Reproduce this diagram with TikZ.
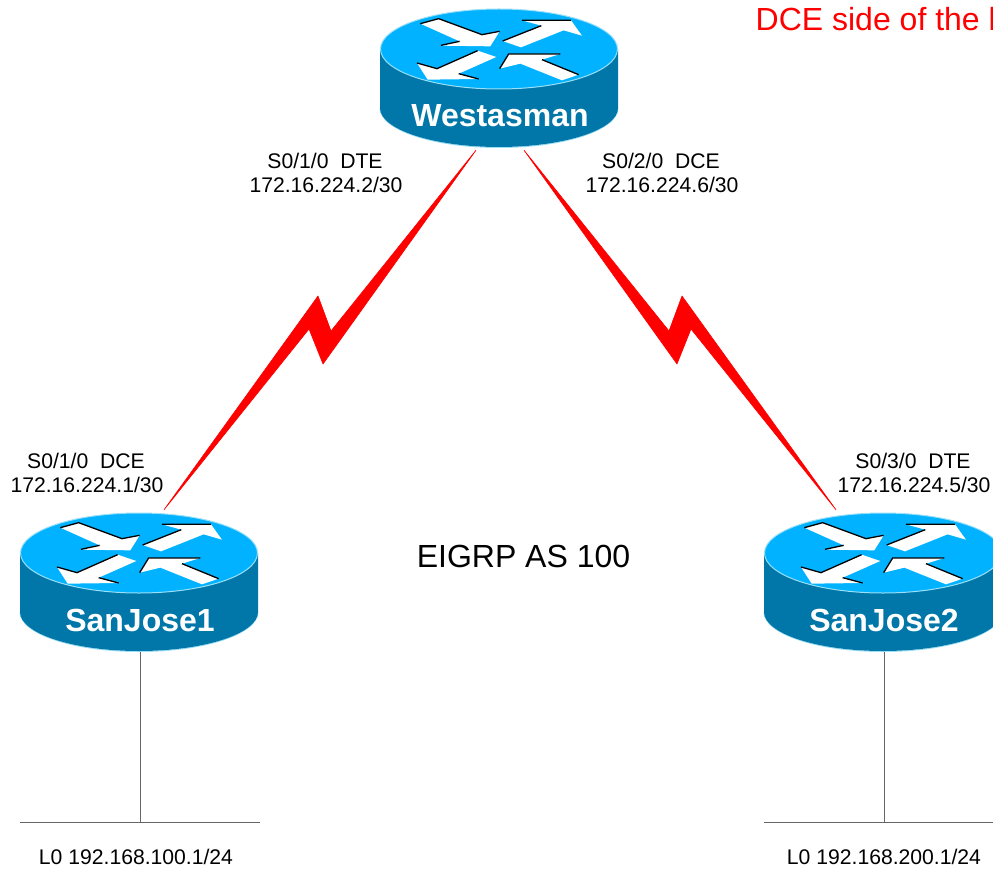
\documentclass[tikz,border=0pt]{standalone}
\usepackage{fontspec}
\setmainfont{Liberation Sans}
\usetikzlibrary{calc}
\definecolor{rtop}{HTML}{00B2FF}
\definecolor{rside}{HTML}{0077A8}
\definecolor{rrim}{HTML}{9ADFF5}
\definecolor{wire}{HTML}{666666}
\tikzset{
  lab/.style={inner sep=0pt,font=\fontsize{21.15}{25}\selectfont},
  biglab/.style={inner sep=0pt,font=\fontsize{32}{38}\selectfont},
  rname/.style={inner sep=0pt,text=white,font=\bfseries\fontsize{32}{38}\selectfont},
  rbody/.style={inner sep=0pt,minimum width=238pt,minimum height=138pt},
  arrowfill/.style={fill=white},
  arrowedge/.style={draw=black,line width=1.3pt},
  wireline/.style={draw=wire,line width=1pt},
  bolt/.style={fill=red,draw=red,line width=0.6pt,line join=round}
}
\newcommand{\routerat}[4]{%
  \begin{scope}[shift={(#1,#2)}]
    \draw[rrim,line width=1pt] (-119,59) arc[start angle=180,end angle=360,x radius=119pt,y radius=39.5pt];
    \fill[rside] (-119,0) -- (-119,59) arc[start angle=180,end angle=360,x radius=119pt,y radius=39pt] -- (119,0) -- cycle;
    \filldraw[fill=rtop,draw=rrim,line width=1pt] (0,0) ellipse [x radius=118.5pt,y radius=40pt];
    \begin{scope}[shift={(-128.67pt,49.33pt)},x=0.3333pt,y=-0.3333pt]
      \fill[arrowfill] (150,72)--(205,57)--(335,105)--(388,95)--(360,140)--(212,138)--(268,125)--cycle;
      \draw[arrowedge] (150,72)--(205,57)--(335,105)--(388,95);
      \draw[arrowedge] (212,137)--(268,125);
      \fill[arrowfill] (397,124)--(513,78)--(455,62)--(602,62)--(635,108)--(580,92)--(452,143)--cycle;
      \draw[arrowedge] (397,124)--(513,78) (455,62)--(602,62);
      \fill[arrowfill] (140,190)--(200,207)--(322,153)--(378,172)--(265,222)--(325,238)--(172,240)--cycle;
      \draw[arrowedge] (140,190)--(200,207)--(322,153);
      \draw[arrowedge] (265,222)--(325,238);
      \fill[arrowfill] (388,207)--(415,163)--(570,163)--(515,180)--(625,225)--(575,242)--(450,192)--cycle;
      \draw[arrowedge] (388,207)--(415,163)--(570,163) (515,180)--(625,225);
    \end{scope}
    \node[rbody] (#3) at (0,29) {};
    \node[rname] (#3name) at (1,67) {#4};
  \end{scope}%
}
\begin{document}
\begin{tikzpicture}[x=1pt,y=-1pt]
\useasboundingbox (0,0) rectangle (993,869);
\routerat{499}{49}{west}{Westasman}
\routerat{139}{553}{sja}{SanJose1}
\routerat{883}{553}{sjb}{SanJose2}

% serial links
\filldraw[bolt] ($(west.south)+(-23,3)$) -- (331,331) -- (318,296) -- ($(sja.north)+(25,-3)$) -- (309,329) -- (323,364) -- cycle;
\filldraw[bolt] ($(west.south)+(25,3)$) -- (669,331) -- (682,296) -- ($(sjb.north)+(-47,-3)$) -- (691,329) -- (677,364) -- cycle;

% loopback segments
\coordinate (lana) at (140,822);
\coordinate (lanb) at (884,822);
\coordinate (lanaL) at (20,822);
\coordinate (lanaR) at (260,822);
\coordinate (lanbL) at (764,822);
\coordinate (lanbR) at (1004,822);
\draw[wireline] (140,652) -- (lana);
\draw[wireline] (884,652) -- (lanb);
\draw[wireline] (lanaL) -- (lanaR);
\draw[wireline] (lanbL) -- (lanbR);

% labels
\node[lab] (l1a) at (325,161) {S0/1/0~~DTE};
\node[lab] (l1b) at (326,185) {172.16.224.2/30};
\node[lab] (l2a) at (661,161) {S0/2/0~~DCE};
\node[lab] (l2b) at (662,185) {172.16.224.6/30};
\node[lab] (l3a) at (86,461) {S0/1/0~~DCE};
\node[lab] (l3b) at (87,485) {172.16.224.1/30};
\node[lab] (l4a) at (913,461) {S0/3/0~~DTE};
\node[lab] (l4b) at (914,485) {172.16.224.5/30};
\node[lab] (l5) at (136,857) {L0 192.168.100.1/24};
\node[lab] (l6) at (884,857) {L0 192.168.200.1/24};
\node[biglab] (as) at (523.5,556) {EIGRP AS 100};
\node[biglab,text=red,anchor=west] (dce) at (755.5,19) {DCE side of the l};
\end{tikzpicture}
\end{document}
